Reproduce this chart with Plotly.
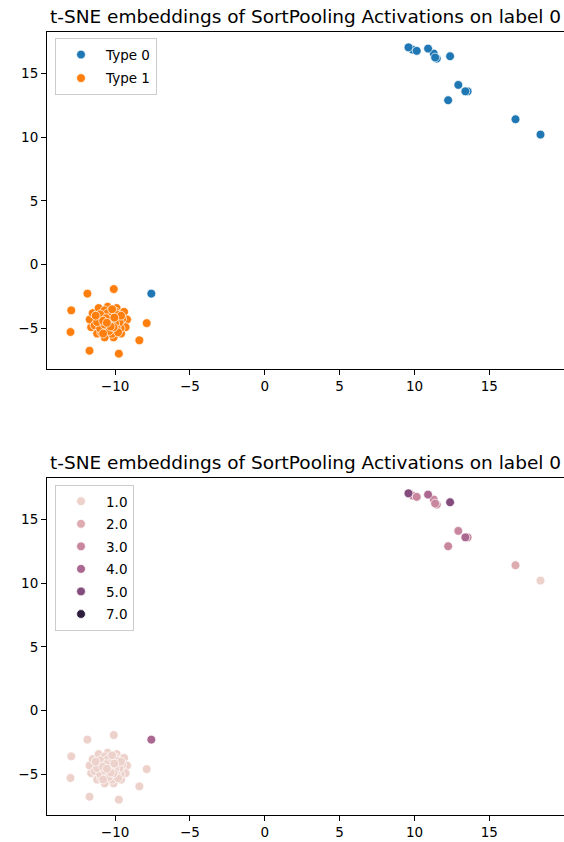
import math
import plotly.graph_objects as go

# ---------------- data ----------------
title_text = "t-SNE embeddings of SortPooling Activations on label 0"

type0_x = [9.62, 9.87, 11.29, 11.49, 13.55, 9.60, 10.15, 10.91, 11.38, 12.38,
           12.93, 13.40, 12.25, 16.75, 18.42, -7.58]
type0_y = [17.02, 16.86, 16.55, 16.16, 13.59, 17.04, 16.76, 16.94, 16.24, 16.34,
           14.09, 13.59, 12.89, 11.40, 10.20, -2.27]
type0_hue = [7.0, 3.0, 3.0, 3.0, 3.0, 5.0, 3.0, 4.0, 3.0, 5.0,
             3.0, 4.0, 3.0, 2.0, 1.0, 4.0]

type1_x = [-11.85, -10.09, -12.93, -12.98, -11.71, -9.75, -8.38, -7.89,
           -10.5, -9.9, -9.4, -9.2, -9.3, -9.6, -10.1, -10.7, -11.2, -11.6,
           -11.7, -11.5, -11.1,
           -9.53, -9.98, -10.70, -11.27, -11.37, -10.93, -10.20, -9.63,
           -10.5, -9.9, -9.7, -9.9, -10.4, -11.0, -11.2, -11.0,
           -10.4, -10.0, -10.7, -10.3,
           -10.2, -9.6, -11.3, -10.8, -9.8, -10.6, -10.1,
           -10.8, -10.3, -10.05, -10.55]
type1_y = [-2.27, -1.91, -3.58, -5.28, -6.75, -6.98, -5.93, -4.58,
           -3.3, -3.4, -3.7, -4.3, -4.9, -5.4, -5.7, -5.7, -5.4, -4.9,
           -4.3, -3.8, -3.4,
           -4.25, -3.68, -3.58, -4.03, -4.75, -5.32, -5.42, -4.98,
           -3.8, -3.9, -4.5, -5.0, -5.2, -5.0, -4.5, -3.9,
           -4.4, -4.6, -4.7, -4.1,
           -3.5, -4.0, -4.0, -5.4, -5.3, -4.2, -4.9,
           -4.4, -4.85, -4.15, -4.55]
type1_hue = [1.0, 1.0, 1.0, 1.0, 1.0, 1.0, 1.0, 1.0,
             1.0, 1.0, 1.0, 1.0, 1.0, 1.0, 1.0, 1.0, 1.0, 1.0,
             1.0, 1.0, 1.0,
             1.0, 1.0, 1.0, 1.0, 1.0, 1.0, 1.0, 1.0,
             1.0, 1.0, 1.0, 1.0, 1.0, 1.0, 1.0, 1.0,
             1.0, 1.0, 1.0, 1.0,
             1.0, 1.0, 1.0, 1.0, 1.0, 1.0, 1.0,
             1.0, 1.0, 1.0, 1.0]

type_labels = ["Type 0", "Type 1"]
hue_levels = [1.0, 2.0, 3.0, 4.0, 5.0, 7.0]
hue_labels = ["1.0", "2.0", "3.0", "4.0", "5.0", "7.0"]

x_ticks = [-10, -5, 0, 5, 10, 15]
y_ticks = [-5, 0, 5, 10, 15]

# ---------------- styling ----------------
FONT = "DejaVu Sans"
BLUE = "#1f77b4"
ORANGE = "#ff7f0e"
MSIZE = 8.8
EDGE = dict(color="white", width=0.7)


def cubehelix(t):
    """seaborn default cubehelix_palette colormap (light -> dark)."""
    x = 0.85 - 0.7 * t
    a = 0.8 * x * (1 - x) / 2
    phi = 2 * math.pi * (0.4 * x)
    c, s = math.cos(phi), math.sin(phi)
    r = x + a * (-0.14861 * c + 1.78277 * s)
    g = x + a * (-0.29227 * c - 0.90649 * s)
    b = x + a * (1.97294 * c)
    clip = lambda v: max(0.0, min(1.0, v))
    return "rgb(%d,%d,%d)" % tuple(round(255 * clip(v)) for v in (r, g, b))


hmin, hmax = min(hue_levels), max(hue_levels)


def hue_color(h):
    return cubehelix((h - hmin) / (hmax - hmin))


fig = go.Figure()

# ---- top panel ----
fig.add_trace(go.Scatter(
    x=type0_x, y=type0_y, mode="markers", name=type_labels[0],
    marker=dict(color=BLUE, size=MSIZE, line=EDGE),
    xaxis="x", yaxis="y", legend="legend", legendgroup="a"))
fig.add_trace(go.Scatter(
    x=type1_x, y=type1_y, mode="markers", name=type_labels[1],
    marker=dict(color=ORANGE, size=MSIZE, line=EDGE),
    xaxis="x", yaxis="y", legend="legend", legendgroup="b"))

# ---- bottom panel ----
all_x = type1_x + type0_x
all_y = type1_y + type0_y
all_h = type1_hue + type0_hue
fig.add_trace(go.Scatter(
    x=all_x, y=all_y, mode="markers", showlegend=False,
    marker=dict(color=[hue_color(h) for h in all_h], size=MSIZE, line=EDGE),
    xaxis="x2", yaxis="y2"))
for i, (lvl, lab) in enumerate(zip(hue_levels, hue_labels)):
    fig.add_trace(go.Scatter(
        x=[None], y=[None], mode="markers", name=lab,
        marker=dict(color=hue_color(lvl), size=MSIZE, line=EDGE),
        xaxis="x2", yaxis="y2", legend="legend2", legendgroup="h%d" % i))

XR = [-14.55, 19.99]
YR = [-8.18, 18.24]
TOP_DOM = [0.5696, 1.0]
BOT_DOM = [0.0, 0.4304]

axis_common = dict(
    showline=True, linecolor="black", linewidth=1.1, mirror=True,
    ticks="outside", ticklen=5, tickwidth=1.1, tickcolor="black",
    showgrid=False, zeroline=False,
    tickfont=dict(family=FONT, size=13.5, color="black"),
)

legend_common = dict(
    xanchor="left", yanchor="top",
    bgcolor="rgba(255,255,255,0.8)", bordercolor="#cccccc", borderwidth=1,
    font=dict(family=FONT, size=13.5, color="black"),
    itemwidth=40,
)

fig.update_layout(
    width=564, height=842,
    margin=dict(l=47, r=0, t=32, b=27),
    paper_bgcolor="white", plot_bgcolor="white",
    font=dict(family=FONT, color="black"),
    xaxis=dict(range=XR, domain=[0, 1], anchor="y", tickvals=x_ticks, **axis_common),
    yaxis=dict(range=YR, domain=TOP_DOM, anchor="x", tickvals=y_ticks, **axis_common),
    xaxis2=dict(range=XR, domain=[0, 1], anchor="y2", tickvals=x_ticks, **axis_common),
    yaxis2=dict(range=YR, domain=BOT_DOM, anchor="x2", tickvals=y_ticks, **axis_common),
    legend=dict(x=0.0155, y=0.992, tracegroupgap=3, **legend_common),
    legend2=dict(x=0.0155, y=0.4215, tracegroupgap=2, **legend_common),
    annotations=[
        dict(text=title_text, xref="paper", yref="paper", x=0.5, y=TOP_DOM[1],
             xanchor="center", yanchor="bottom", yshift=3, showarrow=False,
             font=dict(family=FONT, size=18.5, color="black")),
        dict(text=title_text, xref="paper", yref="paper", x=0.5, y=BOT_DOM[1],
             xanchor="center", yanchor="bottom", yshift=3, showarrow=False,
             font=dict(family=FONT, size=18.5, color="black")),
    ],
    showlegend=True,
)

fig.write_html(
    "out.html",
    config={"displayModeBar": False},
    post_script="document.body.style.margin='0px';"
                "document.body.style.overflow='hidden';",
)
